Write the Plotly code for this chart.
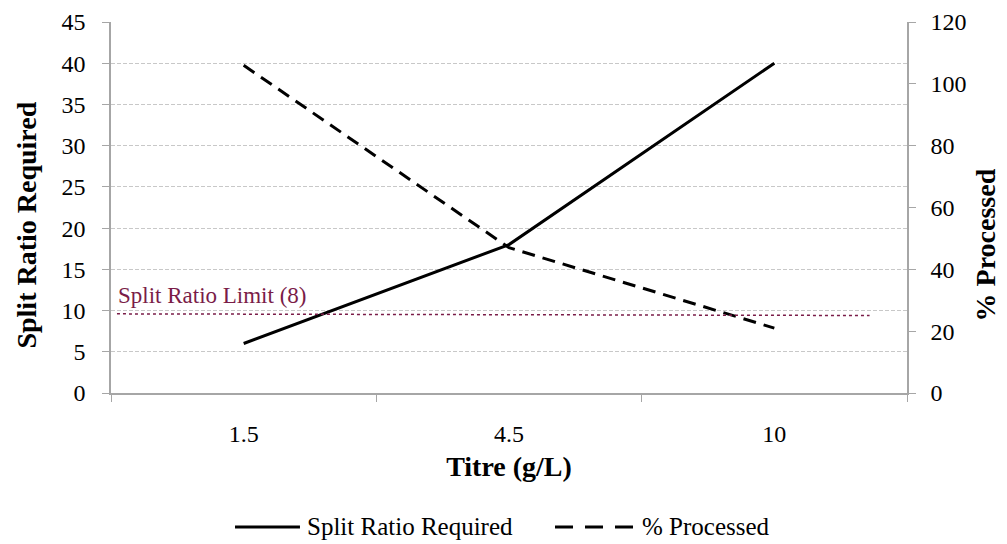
import plotly.graph_objects as go

categories = ["1.5", "4.5", "10"]
split_ratio = [6, 18, 40]
pct_processed = [106, 47, 21]
series_names = ["Split Ratio Required", "% Processed"]
limit_label = "Split Ratio Limit (8)"
limit_y = [9.6, 9.4]
left_ticks = list(range(0, 50, 5))
right_ticks = list(range(0, 140, 20))

FONT = "Liberation Serif, Times New Roman, serif"
AXIS_GRAY = "#a6a6a6"
MAROON = "#7a1c48"
TICK = 24
TITLE = 28
SOLID = dict(color="black", width=3)
DASHED = dict(color="black", width=3, dash="13px,8px")

fig = go.Figure()
fig.add_trace(go.Scatter(
    x=categories, y=split_ratio, name=series_names[0], mode="lines",
    line=SOLID, yaxis="y", showlegend=False))
fig.add_trace(go.Scatter(
    x=categories, y=pct_processed, name=series_names[1], mode="lines",
    line=DASHED, yaxis="y2", showlegend=False))

fig.add_shape(type="line", xref="paper", yref="y", x0=0.0075, x1=0.953,
              y0=limit_y[0], y1=limit_y[1],
              line=dict(color=MAROON, width=1.5, dash="dot"))
fig.add_annotation(text=limit_label, xref="paper", yref="y", x=0.006, y=11.8,
                   xanchor="left", yanchor="middle", showarrow=False,
                   font=dict(family=FONT, size=23, color=MAROON))

# axis titles placed as rotated annotations (matching the reference offsets)
fig.add_annotation(text="<b>Split Ratio Required</b>", xref="paper", yref="paper",
                   x=-0.106, y=0.453, textangle=-90, showarrow=False,
                   xanchor="center", yanchor="middle",
                   font=dict(family=FONT, size=TITLE, color="black"))
fig.add_annotation(text="<b>% Processed</b>", xref="paper", yref="paper",
                   x=1.099, y=0.40, textangle=-90, showarrow=False,
                   xanchor="center", yanchor="middle",
                   font=dict(family=FONT, size=TITLE, color="black"))

# legend (drawn to match the long line samples of the reference)
LEG_Y = -0.361
legend_items = [
    (series_names[0], dict(color="black", width=3), 0.1558, 0.2374, 0.2437),
    (series_names[1], dict(color="black", width=3, dash="18px,12px"), 0.5578, 0.6583, 0.6646),
]
for name, style, xs0, xs1, xt in legend_items:
    fig.add_shape(type="line", xref="paper", yref="paper", x0=xs0, x1=xs1,
                  y0=LEG_Y, y1=LEG_Y, line=style)
    fig.add_annotation(text=name, xref="paper", yref="paper", x=xt, y=LEG_Y,
                       xanchor="left", yanchor="middle", showarrow=False,
                       font=dict(family=FONT, size=25, color="black"))

fig.update_layout(
    width=1007, height=580,
    margin=dict(l=103, r=108, t=14, b=195),
    paper_bgcolor="white", plot_bgcolor="white",
    font=dict(family=FONT, size=TICK, color="black"),
    showlegend=False,
    xaxis=dict(
        type="category", range=[-0.5, 2.5], showline=True, linecolor=AXIS_GRAY,
        linewidth=1.5, ticks="outside", tickson="boundaries", ticklen=7,
        tickcolor=AXIS_GRAY, showgrid=False, zeroline=False, mirror=False,
        automargin=False,
        tickfont=dict(family=FONT, size=TICK), ticklabelstandoff=18,
        title=dict(text="<b>Titre (g/L)</b>", font=dict(family=FONT, size=TITLE), standoff=11)),
    yaxis=dict(
        range=[0, 45], tickvals=left_ticks, showline=True, linecolor=AXIS_GRAY,
        linewidth=1.5, ticks="outside", ticklen=7, tickcolor=AXIS_GRAY,
        showgrid=True, gridcolor="#c8c8c8", griddash="4px,2px", gridwidth=1,
        zeroline=False, automargin=False,
        tickfont=dict(family=FONT, size=TICK), ticklabelstandoff=12),
    yaxis2=dict(
        range=[0, 120], tickvals=right_ticks, overlaying="y", side="right",
        showline=True, linecolor=AXIS_GRAY, linewidth=1.5, ticks="outside",
        ticklen=7, tickcolor=AXIS_GRAY, showgrid=False, zeroline=False,
        automargin=False,
        tickfont=dict(family=FONT, size=TICK), ticklabelstandoff=10),
)

fig.write_html("out.html")
